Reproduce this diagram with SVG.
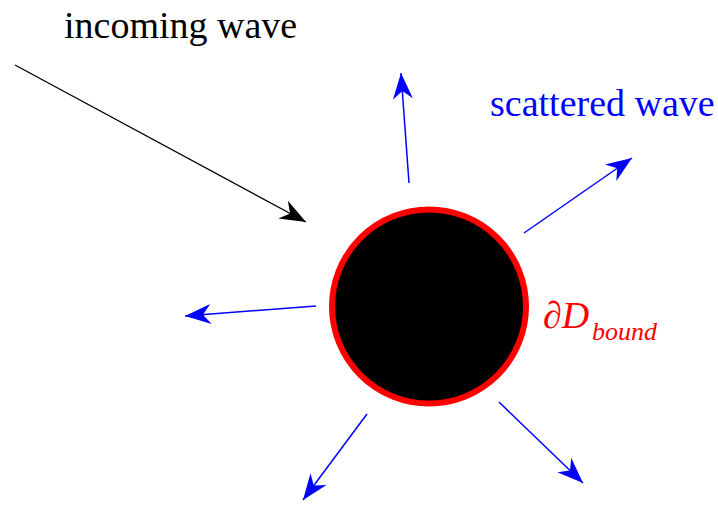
<svg xmlns="http://www.w3.org/2000/svg" width="718" height="505" viewBox="0 0 718 505">
<style>
.t{font-family:"Liberation Serif","Times New Roman",serif;}
.blue{stroke:#0000ff;stroke-width:1.5;fill:none;marker-end:url(#hb);}
</style>
<defs>
<marker id="hb" markerUnits="userSpaceOnUse" viewBox="-26 -12 28 24" refX="0" refY="0" markerWidth="28" markerHeight="24" orient="auto">
<path d="M0,0 L-26,-10 L-18,0 L-26,10 Z" fill="#0000ff"/>
</marker>
<marker id="hk" markerUnits="userSpaceOnUse" viewBox="-26 -12 28 24" refX="0" refY="0" markerWidth="28" markerHeight="24" orient="auto">
<path d="M0,0 L-26,-10 L-18,0 L-26,10 Z" fill="#000"/>
</marker>
</defs>
<rect width="718" height="505" fill="#fff"/>
<g id="body">
<circle cx="429" cy="306.5" r="97" fill="#000" stroke="#ff0000" stroke-width="6"/>
</g>
<g id="connectors">
<line x1="15" y1="65" x2="306" y2="222" stroke="#000" stroke-width="1.3" marker-end="url(#hk)"/>
<line class="blue" x1="409" y1="183" x2="401" y2="73"/>
<line class="blue" x1="524" y1="233" x2="632" y2="158"/>
<line class="blue" x1="316" y1="306" x2="185" y2="316"/>
<line class="blue" x1="367" y1="414" x2="303" y2="500"/>
<line class="blue" x1="499" y1="402" x2="583" y2="483"/>
</g>
<g id="labels">
<text class="t" x="64" y="38" font-size="38" fill="#000">incoming wave</text>
<text class="t" x="490" y="116" font-size="38" fill="#0000ff">scattered wave</text>
<text class="t" x="543" y="328" font-size="38" fill="#ff0000">∂<tspan font-style="italic">D</tspan><tspan x="592" y="340" font-style="italic" font-size="26">bound</tspan></text>
</g>
</svg>
